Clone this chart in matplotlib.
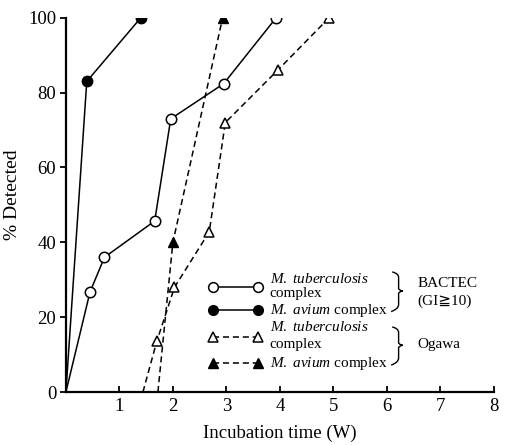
import numpy as np
import matplotlib.pyplot as plt
from matplotlib.path import Path
from matplotlib.patches import PathPatch

plt.rcParams['font.family'] = ['Liberation Serif', 'DejaVu Serif', 'DejaVu Sans']
plt.rcParams['mathtext.fontset'] = 'custom'
plt.rcParams['mathtext.it'] = 'Liberation Serif:italic'
plt.rcParams['mathtext.rm'] = 'Liberation Serif'

# BACTEC
mtb_bactec_x = [0, 0.45, 0.72, 1.66, 1.96, 2.95, 3.93]
mtb_bactec_y = [0, 26.7, 36, 45.7, 73, 82.4, 100]
mac_bactec_x = [0, 0.39, 1.40]
mac_bactec_y = [0, 83, 100]

# Ogawa
mtb_ogawa_x = [1.44, 1.70, 2.03, 2.68, 2.98, 3.96, 4.92]
mtb_ogawa_y = [0, 13.6, 28, 42.8, 72, 86, 100]
mac_ogawa_x = [1.72, 2.0, 2.93]
mac_ogawa_y = [0, 40, 100]

fig = plt.figure(figsize=(5.07, 4.45), dpi=100)
ax = fig.add_axes([0.130, 0.119, 0.844, 0.841])

lw = 1.1
ms = 7.5
dash = (0, (4, 2.5))

ax.plot(mtb_bactec_x, mtb_bactec_y, '-', color='black', lw=lw)
ax.plot(mtb_bactec_x[1:], mtb_bactec_y[1:], 'o', mfc='white', mec='black', ms=ms, mew=1.1)
ax.plot(mac_bactec_x, mac_bactec_y, '-', color='black', lw=lw)
ax.plot(mac_bactec_x[1:], mac_bactec_y[1:], 'o', mfc='black', mec='black', ms=ms)
ax.plot(mtb_ogawa_x, mtb_ogawa_y, color='black', lw=lw, ls=dash)
ax.plot(mtb_ogawa_x[1:], mtb_ogawa_y[1:], '^', mfc='white', mec='black', ms=7, mew=1.1)
ax.plot(mac_ogawa_x, mac_ogawa_y, color='black', lw=lw, ls=dash)
ax.plot(mac_ogawa_x[1:], mac_ogawa_y[1:], '^', mfc='black', mec='black', ms=7)

ax.set_xlim(0, 8)
ax.set_ylim(0, 100)
ax.set_xticks(range(1, 9))
ax.set_yticks(range(0, 101, 20))
ax.spines['top'].set_visible(False)
ax.spines['right'].set_visible(False)
ax.spines['left'].set_linewidth(1.6)
ax.spines['bottom'].set_linewidth(1.6)
ax.tick_params(axis='x', direction='in', length=4, width=1.3, labelsize=13.5, pad=4)
ax.tick_params(axis='y', direction='out', length=4, width=1.3, labelsize=13.5, pad=3)
ax.set_xlabel('Incubation time (W)', fontsize=13.5, labelpad=7)
ax.set_ylabel('% Detected', fontsize=14)
ax.yaxis.set_label_coords(-0.105, 0.527)

# legend drawn by hand
lx0, lx1, tx = 2.75, 3.59, 3.81
ax.plot([lx0, lx1], [28.1, 28.1], '-', color='black', lw=lw)
ax.plot([lx0, lx1], [28.1, 28.1], 'o', mfc='white', mec='black', ms=7, mew=1.1)
ax.plot([lx0, lx1], [21.9, 21.9], '-', color='black', lw=lw)
ax.plot([lx0, lx1], [21.9, 21.9], 'o', color='black', ms=7)
ax.plot([lx0, lx1], [14.7, 14.7], color='black', lw=lw, ls=dash)
ax.plot([lx0, lx1], [14.7, 14.7], '^', mfc='white', mec='black', ms=6.5, mew=1.1)
ax.plot([lx0, lx1], [7.75, 7.75], color='black', lw=lw, ls=dash)
ax.plot([lx0, lx1], [7.75, 7.75], '^', color='black', ms=6.5)

fs = 11
ax.text(tx, 30.2, r'$\mathit{M.\ tuberculosis}$', fontsize=fs, va='center')
ax.text(tx, 26.4, 'complex', fontsize=fs, va='center')
ax.text(tx, 21.9, r'$\mathit{M.\ avium}$ complex', fontsize=fs, va='center')
ax.text(tx, 17.4, r'$\mathit{M.\ tuberculosis}$', fontsize=fs, va='center')
ax.text(tx, 12.6, 'complex', fontsize=fs, va='center')
ax.text(tx, 7.75, r'$\mathit{M.\ avium}$ complex', fontsize=fs, va='center')

ax.text(6.58, 29.1, 'BACTEC', fontsize=fs, va='center')
ax.text(6.58, 24.3, '(GI≧10)', fontsize=fs, va='center')
ax.text(6.58, 12.6, 'Ogawa', fontsize=fs, va='center')


def brace(x, y0, y1):
    ym = (y0 + y1) / 2
    verts = [(x - 0.12, y1), (x, y1 - 0.4), (x, y1 - 1.5),
             (x, ym + 0.6), (x + 0.03, ym), (x + 0.08, ym),
             (x + 0.03, ym), (x, ym - 0.6),
             (x, y0 + 1.5), (x, y0 + 0.3), (x - 0.14, y0 - 0.4)]
    codes = [Path.MOVETO, Path.CURVE3, Path.CURVE3,
             Path.LINETO, Path.CURVE3, Path.CURVE3,
             Path.CURVE3, Path.CURVE3,
             Path.LINETO, Path.CURVE3, Path.CURVE3]
    ax.add_patch(PathPatch(Path(verts, codes), fc='none', ec='black', lw=1.0, clip_on=False))


brace(6.22, 21.9, 32.1)
brace(6.22, 7.6, 17.4)

fig.savefig('out.png', dpi=100)
